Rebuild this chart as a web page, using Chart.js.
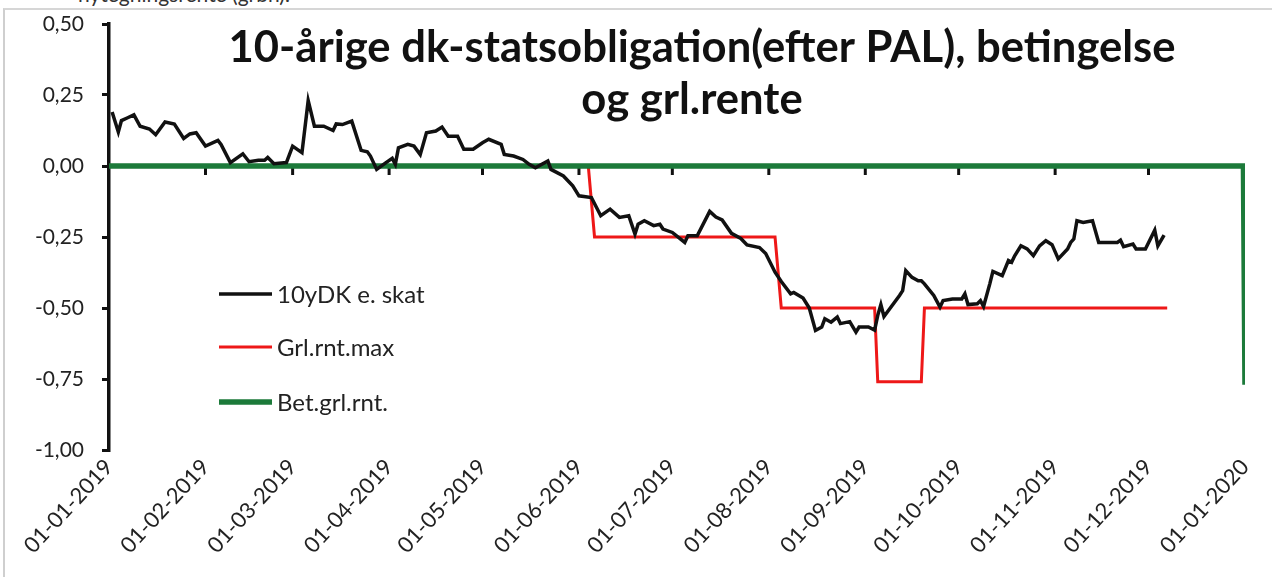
<!DOCTYPE html>
<html>
<head>
<meta charset="utf-8">
<script src="https://cdn.jsdelivr.net/npm/chart.js@4.4.1/dist/chart.umd.min.js"></script>
<style>
  html, body { margin: 0; padding: 0; background: #fff; overflow: hidden; }
  #wrap { position: relative; width: 1272px; height: 577px; }
  #frame { position: absolute; left: 3px; top: 8px; width: 1290px; height: 600px;
           border-left: 2px solid #cfcfcf; border-top: 2px solid #d6d6d6; }
  #cut { position: absolute; left: 78px; top: -19px; font: 21px Lato, sans-serif; color: #333; white-space: nowrap; }
  canvas { position: absolute; left: 0; top: 0; }
</style>
</head>
<body>
<div id="wrap">
  <div id="cut">nytegningsrente (grbn).</div>
  <div id="frame"></div>
  <canvas id="chart" width="1272" height="577"></canvas>
</div>
<script>
// x = days since 01-01-2019
var monthTicks = [0, 31, 59, 90, 120, 151, 181, 212, 243, 273, 304, 334, 365];
var monthLabels = ['01-01-2019', '01-02-2019', '01-03-2019', '01-04-2019', '01-05-2019', '01-06-2019',
  '01-07-2019', '01-08-2019', '01-09-2019', '01-10-2019', '01-11-2019', '01-12-2019', '01-01-2020'];
var yTicks = [-1, -0.75, -0.5, -0.25, 0, 0.25, 0.5];

// 10yDK e. skat
var yieldDays = [1, 3, 4, 6, 8, 10, 13, 15, 18, 21, 24, 26, 28, 31, 35, 36, 39, 43, 45, 48, 50, 51, 53, 57, 59, 62,
  64, 66, 69, 72, 73, 75, 78, 81, 83, 84, 86, 89, 91, 92, 93, 96, 98, 100, 102, 105, 107, 109, 112, 114, 117, 120,
  122, 126, 127, 130, 133, 135, 137, 141, 142, 146, 149, 151, 155, 158, 161, 164, 167, 169, 170, 172, 175, 177, 178,
  181, 185, 186, 189, 193, 195, 197, 200, 203, 205, 209, 211, 214, 216, 219, 220, 223, 225, 227, 229, 230, 232, 234,
  235, 238, 240, 241, 244, 246, 247, 248, 249, 254, 255, 256, 258, 260, 261, 262, 265, 267, 268, 271, 274, 275, 276,
  279, 280, 281, 283, 284, 287, 289, 290, 291, 293, 295, 297, 299, 301, 303, 305, 308, 309, 310, 311, 313, 316, 318,
  324, 325, 326, 329, 330, 333, 336, 337, 339];
var yieldVals = [0.19, 0.12, 0.16, 0.17, 0.18, 0.14, 0.13, 0.11, 0.155, 0.148, 0.097, 0.113, 0.117, 0.07, 0.09, 0.076,
  0.012, 0.043, 0.015, 0.02, 0.02, 0.03, 0.008, 0.012, 0.07, 0.047, 0.23, 0.14, 0.14, 0.125, 0.148, 0.146, 0.158,
  0.055, 0.05, 0.035, -0.012, 0.012, 0.027, 0.006, 0.064, 0.076, 0.07, 0.04, 0.117, 0.123, 0.137, 0.105, 0.105,
  0.059, 0.059, 0.082, 0.094, 0.076, 0.041, 0.035, 0.023, 0.006, -0.006, 0.018, -0.012, -0.035, -0.07, -0.105,
  -0.111, -0.175, -0.152, -0.181, -0.175, -0.24, -0.205, -0.193, -0.21, -0.205, -0.222, -0.234, -0.269, -0.246,
  -0.246, -0.16, -0.18, -0.19, -0.237, -0.255, -0.278, -0.287, -0.308, -0.374, -0.407, -0.45, -0.445, -0.465, -0.5,
  -0.579, -0.567, -0.538, -0.55, -0.532, -0.555, -0.548, -0.585, -0.567, -0.567, -0.578, -0.526, -0.488, -0.53,
  -0.456, -0.439, -0.368, -0.392, -0.404, -0.404, -0.415, -0.456, -0.497, -0.474, -0.468, -0.468, -0.45, -0.488,
  -0.485, -0.474, -0.495, -0.415, -0.371, -0.386, -0.333, -0.339, -0.316, -0.281, -0.292, -0.316, -0.281, -0.263,
  -0.277, -0.327, -0.292, -0.269, -0.257, -0.193, -0.199, -0.193, -0.269, -0.269, -0.261, -0.284, -0.275, -0.292,
  -0.292, -0.226, -0.281, -0.243];

// Grl.rnt.max
var maxDays = [0, 154, 156, 214, 216, 246, 247, 261, 262, 340];
var maxVals = [0, 0, -0.25, -0.25, -0.5, -0.5, -0.76, -0.76, -0.5, -0.5];

// Bet.grl.rnt.
var betDays = [0, 364.5, 365];
var betVals = [0, 0, -0.77];

function pts(xs, ys) {
  return xs.map(function(d, i) { return {x: d, y: ys[i]}; });
}

var FONT = 'Lato, "Open Sans", sans-serif';

// keep the plot area where the reference has it
function noPad(s) {
  s.paddingTop = 0; s.paddingBottom = 0; s.paddingLeft = 0; s.paddingRight = 0;
}

// small tick marks on the zero line (x axis crosses at 0)
var zeroTicks = {
  id: 'zeroTicks',
  beforeDatasetsDraw: function(chart) {
    var ctx = chart.ctx, x = chart.scales.x, y = chart.scales.y;
    var y0 = y.getPixelForValue(0);
    ctx.save();
    ctx.strokeStyle = '#111';
    ctx.lineWidth = 3;
    monthTicks.slice(1, -1).forEach(function(d) {
      var px = x.getPixelForValue(d);
      ctx.beginPath();
      ctx.moveTo(px, y0);
      ctx.lineTo(px, y0 + 9);
      ctx.stroke();
    });
    ctx.restore();
  }
};

// title drawn inside the plot area
var titleInside = {
  id: 'titleInside',
  afterDraw: function(chart) {
    var ctx = chart.ctx;
    var lines = ['10-årige dk-statsobligation(efter PAL), betingelse', 'og grl.rente'];
    ctx.save();
    ctx.font = 'bold 43px ' + FONT;
    ctx.fillStyle = '#111';
    ctx.textAlign = 'center';
    ctx.textBaseline = 'alphabetic';
    var sx = 947 / ctx.measureText(lines[0]).width;
    [[702, 62], [692, 114]].forEach(function(p, i) {
      ctx.save();
      ctx.translate(p[0], p[1]);
      ctx.scale(sx, 1);
      ctx.fillText(lines[i], 0, 0);
      ctx.restore();
    });
    ctx.restore();
  }
};

// legend inside the plot, left side
var legendInside = {
  id: 'legendInside',
  afterDraw: function(chart) {
    var ctx = chart.ctx;
    var rows = [294, 347, 402];
    ctx.save();
    ctx.font = '24px ' + FONT;
    ctx.textBaseline = 'middle';
    ctx.fillStyle = '#222';
    chart.data.datasets.forEach(function(ds, i) {
      var yy = rows[i];
      ctx.strokeStyle = ds.borderColor;
      ctx.lineWidth = ds.borderWidth;
      ctx.beginPath();
      ctx.moveTo(219, yy);
      ctx.lineTo(272, yy);
      ctx.stroke();
      ctx.fillText(ds.label, 277, yy + 1);
    });
    ctx.restore();
  }
};

Chart.defaults.font.family = FONT;

new Chart(document.getElementById('chart'), {
  type: 'line',
  data: {
    datasets: [
      {
        label: '10yDK e. skat',
        data: pts(yieldDays, yieldVals),
        borderColor: '#111111',
        borderWidth: 3.5,
        pointRadius: 0,
        tension: 0,
        order: 0
      },
      {
        label: 'Grl.rnt.max',
        data: pts(maxDays, maxVals),
        borderColor: '#ee1818',
        borderWidth: 3,
        pointRadius: 0,
        tension: 0,
        order: 2
      },
      {
        label: 'Bet.grl.rnt.',
        data: pts(betDays, betVals),
        borderColor: '#1c7a3a',
        borderWidth: 5.5,
        pointRadius: 0,
        tension: 0,
        order: 1
      }
    ]
  },
  options: {
    responsive: false,
    animation: false,
    layout: { padding: { top: 24, right: 27, left: 0, bottom: 0 } },
    plugins: {
      legend: { display: false },
      title: { display: false },
      tooltip: { enabled: false }
    },
    scales: {
      x: {
        type: 'linear',
        min: 0,
        max: 365,
        afterBuildTicks: function(s) { s.ticks = monthTicks.map(function(v) { return {value: v}; }); },
        afterFit: function(s) { s.height = 127; noPad(s); },
        grid: { display: false, drawTicks: false },
        border: { display: false },
        ticks: {
          autoSkip: false,
          minRotation: 47,
          maxRotation: 47,
          padding: 4,
          color: '#222',
          font: { size: 22 },
          callback: function(v, i) { return monthLabels[i]; }
        }
      },
      y: {
        min: -1,
        max: 0.5,
        afterBuildTicks: function(s) { s.ticks = yTicks.map(function(v) { return {value: v}; }); },
        afterFit: function(s) { s.width = 109; noPad(s); },
        grid: { display: true, drawOnChartArea: false, drawTicks: true, tickLength: 7, color: '#111', lineWidth: 3 },
        border: { display: true, color: '#111', width: 3.5 },
        ticks: {
          padding: 18,
          color: '#222',
          font: { size: 21 },
          callback: function(v) { return v.toFixed(2).replace('.', ','); }
        }
      }
    }
  },
  plugins: [zeroTicks, titleInside, legendInside]
});
</script>
</body>
</html>
